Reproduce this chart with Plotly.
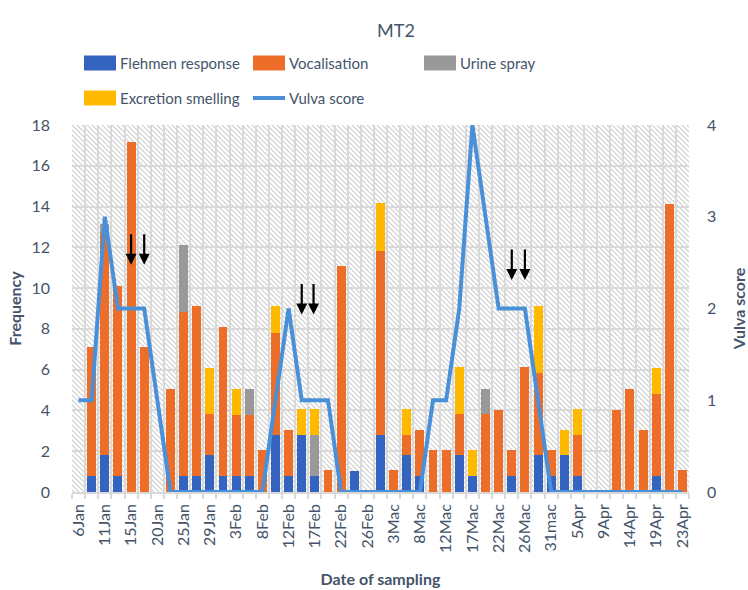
import base64
import plotly.graph_objects as go

# ---------------- data ----------------
tick_labels = ["6Jan", "11Jan", "15Jan", "20Jan", "25Jan", "29Jan", "3Feb", "8Feb",
               "12Feb", "17Feb", "22Feb", "26Feb", "3Mac", "8Mac", "12Mac", "17Mac",
               "22Mac", "26Mac", "31mac", "5Apr", "9Apr", "14Apr", "19Apr", "23Apr"]

# 47 sampling days (labels shown on every second one)
flehmen = [0, 0.8, 1.8, 0.8, 0, 0, 0, 0, 0.8, 0.8,
           1.8, 0.8, 0.8, 0.8, 0, 2.8, 0.8, 2.8, 0.8, 0,
           0, 1.05, 0, 2.8, 0, 1.8, 0.8, 0, 0, 1.8,
           0.8, 0, 0, 0.8, 0, 1.8, 0.8, 1.8, 0.8, 0,
           0, 0, 0, 0, 0.8, 0, 0]
vocalisation = [0, 6.3, 10.9, 9.3, 17.15, 7.1, 0, 5.05, 8.05, 8.3,
                2.05, 7.3, 3.0, 3.0, 2.08, 5.02, 2.26, 0, 0, 1.06,
                11.1, 0, 0, 9.03, 1.06, 1.0, 2.26, 2.08, 2.08, 2.05,
                0, 3.85, 4.04, 1.28, 6.14, 4.04, 1.28, 0, 2.0, 0,
                0, 4.04, 5.07, 3.06, 4.03, 14.12, 1.06]
urine_spray = [0, 0, 0.45, 0, 0, 0, 0, 0, 3.25, 0,
               0, 0, 0, 1.27, 0, 0, 0, 0, 2.0, 0,
               0, 0, 0, 0, 0, 0, 0, 0, 0, 0,
               0, 1.22, 0, 0, 0, 0, 0, 0, 0, 0,
               0, 0, 0, 0, 0, 0, 0]
excretion = [0, 0, 0, 0, 0, 0, 0, 0, 0, 0,
             2.25, 0, 1.27, 0, 0, 1.3, 0, 1.26, 1.26, 0,
             0, 0, 0, 2.33, 0, 1.26, 0, 0, 0, 2.29,
             1.28, 0, 0, 0, 0, 3.26, 0, 1.26, 1.26, 0,
             0, 0, 0, 0, 1.27, 0, 0]
vulva_score = [1, 1, 3, 2, 2, 2, 1, 0, 0, 0,
               0, 0, 0, 0, 0, 1, 2, 1, 1, 1,
               0, 0, 0, 0, 0, 0, 0, 1, 1, 2,
               4, 3, 2, 2, 2, 1, 0, 0, 0, 0,
               0, 0, 0, 0, 0, 0, 0]

# arrows (category index, arrow tip on Frequency axis)
arrow_x = [4, 5, 17, 17.9, 33, 34]
arrow_tip = [11.15, 11.15, 8.7, 8.7, 10.4, 10.4]

names = ["Flehmen response", "Vocalisation", "Urine spray", "Excretion smelling", "Vulva score"]
colors = ["#3563C0", "#EC6E28", "#999999", "#FFBA00", "#4A90D9"]

x = list(range(len(flehmen)))
TXT = "#44546A"
FONT = "Lato, sans-serif"

fig = go.Figure()
for vals, nm, col in zip([flehmen, vocalisation, urine_spray, excretion], names[:4], colors[:4]):
    fig.add_trace(go.Bar(x=x, y=vals, name=nm, marker=dict(color=col, line=dict(width=0)),
                         width=0.68, showlegend=False))
fig.add_trace(go.Scatter(x=x, y=vulva_score, name=names[4], mode="lines", yaxis="y2",
                         line=dict(color=colors[4], width=4), showlegend=False))

# hatched plot-area background
L, R, T, B = 72, 59, 125, 98
PW, PH = 748 - L - R, 590 - T - B
s = 5
svg = (f'<svg xmlns="http://www.w3.org/2000/svg" width="{PW}" height="{PH}">'
       f'<defs><pattern id="p" width="{s}" height="{s}" patternUnits="userSpaceOnUse">'
       f'<path d="M0,0 L{s},{s} M-1,{s-1} L1,{s+1} M{s-1},-1 L{s+1},1" stroke="#cdcdcd" stroke-width="1.1"/>'
       f'</pattern></defs><rect width="100%" height="100%" fill="white"/>'
       f'<rect width="100%" height="100%" fill="url(#p)"/></svg>')
src = "data:image/svg+xml;base64," + base64.b64encode(svg.encode()).decode()

annotations = []
for ax_, tip in zip(arrow_x, arrow_tip):
    annotations.append(dict(x=ax_, y=tip, xref="x", yref="y", text="", showarrow=True,
                            ax=0, ay=-32, arrowhead=2, arrowwidth=2.2, arrowsize=1.0,
                            arrowcolor="black"))

def px2paper_x(px):
    return (px - L) / PW

def px2paper_y(py):
    return (590 - B - py) / PH

# custom legend (two rows, three columns)
leg_rows = [63, 98]
leg_cols = [84, 253, 424]
items = [(0, 0), (0, 1), (0, 2), (1, 0), (1, 1)]
shapes = []
for i, (r, c) in enumerate(items):
    x0 = px2paper_x(leg_cols[c]); x1 = px2paper_x(leg_cols[c] + 32)
    yc = px2paper_y(leg_rows[r])
    if i < 4:
        shapes.append(dict(type="rect", xref="paper", yref="paper", x0=x0, x1=x1,
                           y0=yc - 7.5 / PH, y1=yc + 7.5 / PH,
                           fillcolor=colors[i], line=dict(width=0), layer="above"))
    else:
        shapes.append(dict(type="line", xref="paper", yref="paper", x0=x0, x1=x1,
                           y0=yc, y1=yc, line=dict(color=colors[i], width=4), layer="above"))
    annotations.append(dict(x=px2paper_x(leg_cols[c] + 34), y=yc,
                            xref="paper", yref="paper", text=names[i], showarrow=False,
                            xanchor="left", yanchor="middle",
                            font=dict(size=15, color=TXT, family=FONT)))

fig.update_layout(
    width=748, height=590,
    margin=dict(l=L, r=R, t=T, b=B),
    paper_bgcolor="white", plot_bgcolor="rgba(0,0,0,0)",
    barmode="stack",
    font=dict(family=FONT, color=TXT, size=16),
    title=dict(text="MT2", x=396 / 748, xanchor="center", y=1 - 31 / 590, yanchor="middle",
               font=dict(size=18, color=TXT, family=FONT)),
    showlegend=False,
    xaxis=dict(range=[-0.5, len(x) - 0.5], tickmode="array", tickvals=x[::2],
               ticktext=tick_labels, tickangle=-90, showgrid=False, ticks="",
               tickfont=dict(size=16, color=TXT), ticklabelstandoff=4, automargin=False,
               minor=dict(tickmode="array", tickvals=[i - 0.5 for i in range(len(x) + 1)],
                          showgrid=True, gridcolor="#D9D9D9", gridwidth=1.5,
                          ticks="outside", ticklen=5, tickcolor="#D9D9D9", tickwidth=1.5),
               showline=True, linecolor="#D9D9D9", linewidth=1.5, zeroline=False,
               title=dict(text="<b>Date of sampling</b>", font=dict(size=16, color=TXT),
                          standoff=22)),
    yaxis=dict(range=[0, 18], dtick=2, showgrid=True, gridcolor="#D9D9D9", gridwidth=1.5,
               zeroline=False, showline=False, tickfont=dict(size=16, color=TXT), ticks="",
               ticklabelstandoff=21, automargin=False,
               title=dict(text="<b>Frequency</b>", font=dict(size=16, color=TXT),
                          standoff=5)),
    yaxis2=dict(range=[0, 4], dtick=1, overlaying="y", side="right", showgrid=False,
                zeroline=False, showline=False, tickfont=dict(size=16, color=TXT), ticks="",
                ticklabelstandoff=17, automargin=False,
                title=dict(text="<b>Vulva score</b>", font=dict(size=16, color=TXT),
                           standoff=22)),
    images=[dict(source=src, xref="paper", yref="paper", x=0, y=1, sizex=1, sizey=1,
                 xanchor="left", yanchor="top", sizing="stretch", layer="below")],
    shapes=shapes,
    annotations=annotations,
)

fig.write_html("out.html")
